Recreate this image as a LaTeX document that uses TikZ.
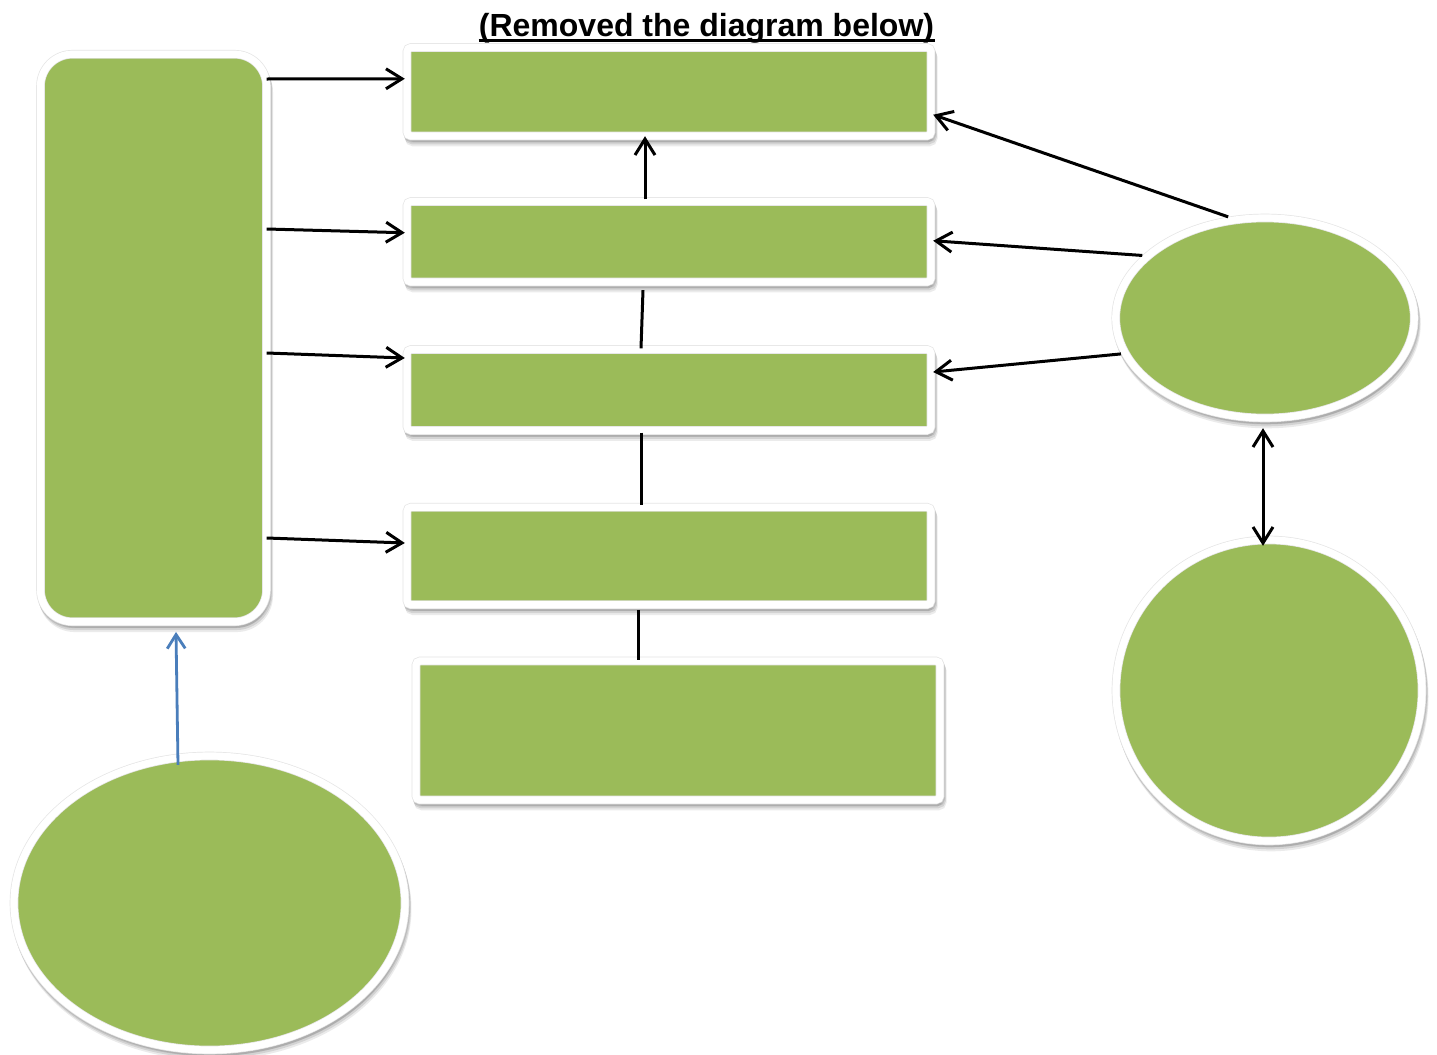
\documentclass[tikz,border=0pt]{standalone}
\usepackage{fontspec}
\setmainfont{Liberation Sans}
\usetikzlibrary{shapes.geometric,arrows.meta,shadows,calc}
\definecolor{olive}{HTML}{9BBB59}
\definecolor{linkblue}{HTML}{4A7EBB}
\tikzset{
  shp/.style={fill=olive, draw=black!10, line width=0.35pt, double=white, double distance=3.6pt,
    inner sep=0pt, outer sep=2.1pt,
    general shadow={shadow xshift=0.4pt, shadow yshift=-1.0pt, opacity=0.10, fill=black, draw=black, line width=4.3pt},
    general shadow={shadow xshift=0.8pt, shadow yshift=-2.0pt, opacity=0.10, fill=black, draw=black, line width=4.3pt},
    general shadow={shadow xshift=1.1pt, shadow yshift=-3.0pt, opacity=0.08, fill=black, draw=black, line width=4.3pt}},
  boxnode/.style={shp, rectangle, rounded corners=2pt},
  tallnode/.style={shp, rectangle, rounded corners=16pt},
  ellnode/.style={shp, ellipse},
  tip/.style={Straight Barb[length=8pt,width=10pt,line width=1.5pt]},
  arr/.style={line width=1.5pt, black, -{Straight Barb[length=8pt,width=10pt,line width=1.5pt]}},
  dblarr/.style={line width=1.5pt, black, {Straight Barb[length=8pt,width=10pt,line width=1.5pt]}-{Straight Barb[length=8pt,width=10pt,line width=1.5pt]}},
  conn/.style={line width=1.5pt, black},
  bluearr/.style={line width=1.4pt, linkblue, -{Straight Barb[length=7pt,width=9pt,line width=1.4pt]}}
}
\begin{document}
\begin{tikzpicture}[x=0.5pt,y=-0.5pt]
\useasboundingbox[fill=white] (0,0) rectangle (1437,1055);

\node[anchor=base, font=\bfseries\fontsize{16pt}{19pt}\selectfont, inner sep=0pt] (title) at (706.5,36) {(Removed the diagram below)};
\draw[line width=1.5pt] ([yshift=-2pt]title.base west) -- ([yshift=-2pt]title.base east);

\node[tallnode, minimum width=113pt, minimum height=283.75pt] (L) at (153.5,338) {};
\node[boxnode, minimum width=262pt, minimum height=44.25pt] (B1) at (669,91.75) {};
\node[boxnode, minimum width=262pt, minimum height=40.25pt] (B2) at (669,241.75) {};
\node[boxnode, minimum width=262pt, minimum height=40.5pt] (B3) at (669,390) {};
\node[boxnode, minimum width=262pt, minimum height=48.75pt] (B4) at (669,556) {};
\node[boxnode, minimum width=262pt, minimum height=69.5pt] (B5) at (678,730.5) {};
\node[ellnode, minimum width=149.25pt, minimum height=100pt] (E1) at (1265,318) {};
\node[ellnode, minimum width=153pt, minimum height=150.5pt] (C1) at (1269,690.5) {};
\node[ellnode, minimum width=195.5pt, minimum height=147pt] (E2) at (209.5,903) {};

% left box to boxes
\draw[arr] ($(L.east)+(-4,-259)$) -- ($(B1.west)+(2,-13)$);
\draw[arr] ($(L.east)+(-4,-109)$) -- ($(B2.west)+(2,-9)$);
\draw[arr] ($(L.east)+(-4,15)$) -- ($(B3.west)+(2,-32)$);
\draw[arr] ($(L.east)+(-4,200)$) -- ($(B4.west)+(2,-13)$);

% vertical chain
\draw[arr] ($(B2.north)+(-24,2)$) -- ($(B1.south)+(-24,-4)$);
\draw[conn] ($(B2.south)+(-26,4)$) -- ($(B3.north)+(-28,3)$);
\draw[conn] ($(B3.south)+(-28,-2)$) -- ($(B4.north)+(-28,2)$);
\draw[conn] ($(B4.south)+(-31,1)$) -- ($(B5.north)+(-40,3)$);

% right ellipse to boxes
\draw[arr] (E1.110.6) -- ($(B1.east)+(-2,23)$);
\draw[arr] (E1.153.8) -- ($(B2.east)+(-2,-1)$);
\draw[arr] (E1.194.4) -- ($(B3.east)+(-2,-18)$);
\draw[dblarr, shorten <=3pt, shorten >=-5pt] ($(E1.south)+(-2,0)$) -- ($(C1.north)+(-6,0)$);

% bottom ellipse to left box
\draw[bluearr] ($(E2.north)+(-31.5,13)$) -- ($(L.south)+(22.5,6)$);
\end{tikzpicture}
\end{document}
